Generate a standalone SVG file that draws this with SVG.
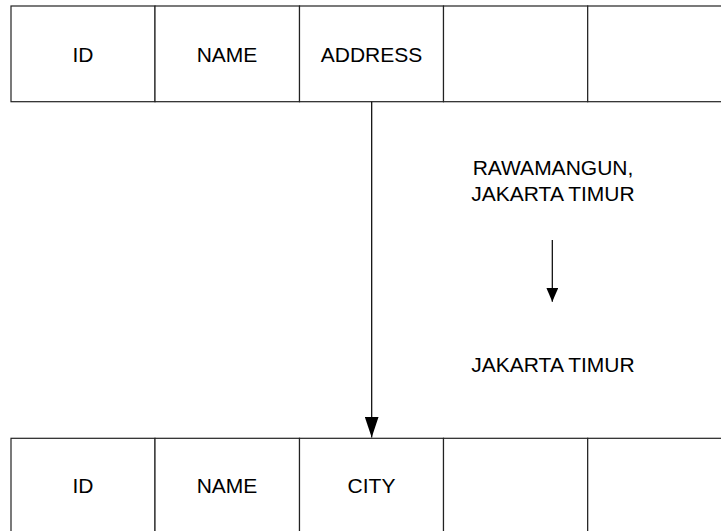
<svg xmlns="http://www.w3.org/2000/svg" width="721" height="531" viewBox="0 0 721 531">
<style>
.cell{fill:#fff;stroke:#222;stroke-width:1.2}
.t{font-family:"Liberation Sans",Arial,sans-serif;font-size:21px;fill:#000;text-anchor:middle}
.ln{stroke:#000;stroke-width:1.2;fill:none}
</style>
<defs>
<marker id="ah" viewBox="0 0 14 21" refX="7" refY="21" markerWidth="14" markerHeight="21" markerUnits="userSpaceOnUse">
<path d="M0,0 L14,0 L7,21 Z" fill="#000"/>
</marker>
<marker id="ah2" viewBox="0 0 12 14" refX="6" refY="14" markerWidth="12" markerHeight="14" markerUnits="userSpaceOnUse">
<path d="M0,0 L12,0 L6,14 Z" fill="#000"/>
</marker>
</defs>
<rect width="721" height="531" fill="#fff"/>
<g id="table1">
<rect class="cell" x="11" y="6" width="144" height="95.7"/>
<rect class="cell" x="155" y="6" width="144.5" height="95.7"/>
<rect class="cell" x="299.5" y="6" width="144" height="95.7"/>
<rect class="cell" x="443.5" y="6" width="144.2" height="95.7"/>
<rect class="cell" x="587.7" y="6" width="145" height="95.7"/>
<text class="t" x="83" y="61.5">ID</text>
<text class="t" x="227" y="61.5">NAME</text>
<text class="t" x="371.5" y="61.5">ADDRESS</text>
</g>
<g id="table2">
<rect class="cell" x="11" y="438.3" width="144" height="100"/>
<rect class="cell" x="155" y="438.3" width="144.5" height="100"/>
<rect class="cell" x="299.5" y="438.3" width="144" height="100"/>
<rect class="cell" x="443.5" y="438.3" width="144.2" height="100"/>
<rect class="cell" x="587.7" y="438.3" width="145" height="100"/>
<text class="t" x="83" y="493.3">ID</text>
<text class="t" x="227" y="493.3">NAME</text>
<text class="t" x="371.5" y="493.3">CITY</text>
</g>
<g id="example">
<text class="t" x="553" y="175">RAWAMANGUN,</text>
<text class="t" x="553" y="201">JAKARTA TIMUR</text>
<text class="t" x="553" y="372">JAKARTA TIMUR</text>
</g>
<g id="connectors">
<line class="ln" x1="371.7" y1="101.7" x2="371.7" y2="437.5" marker-end="url(#ah)"/>
<line class="ln" x1="552.3" y1="240" x2="552.3" y2="301.7" marker-end="url(#ah2)"/>
</g>
</svg>
